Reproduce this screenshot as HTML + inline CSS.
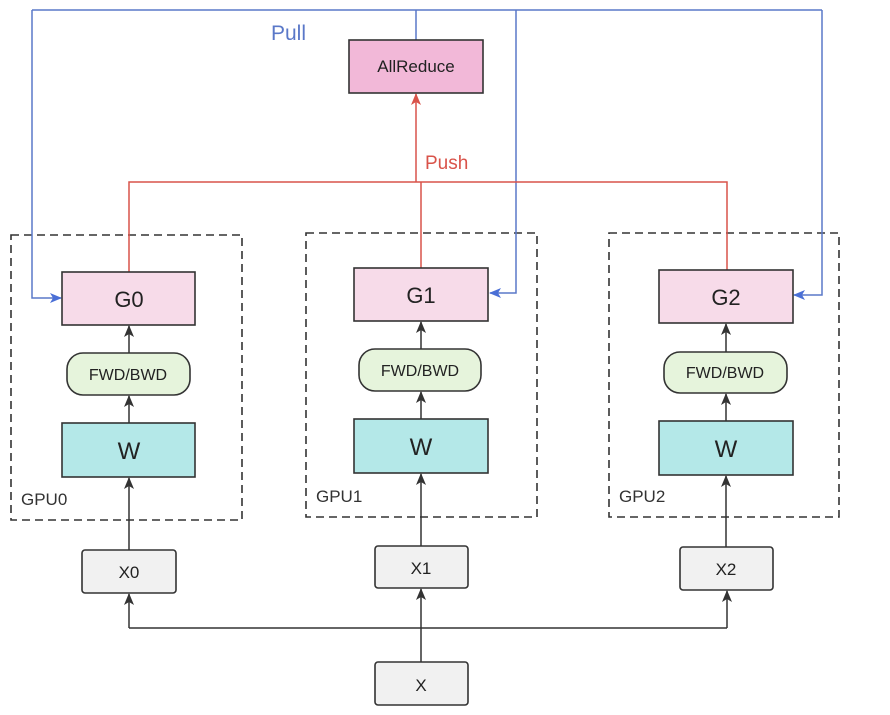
<!DOCTYPE html>
<html><head><meta charset="utf-8"><style>body{margin:0;background:#fff}svg{display:block}text{font-family:"Liberation Sans",sans-serif}</style></head><body>
<svg width="890" height="715" viewBox="0 0 890 715" xmlns="http://www.w3.org/2000/svg">
<defs>
<marker id="ab" markerWidth="12" markerHeight="10" refX="11" refY="5" orient="auto" markerUnits="userSpaceOnUse"><path d="M0,0 L12,5 L0,10 L3,5z" fill="#4a6fd6"/></marker>
<marker id="ar" markerWidth="12" markerHeight="10" refX="11" refY="5" orient="auto" markerUnits="userSpaceOnUse"><path d="M0,0 L12,5 L0,10 L3,5z" fill="#d9534a"/></marker>
<marker id="ak" markerWidth="12" markerHeight="10" refX="11" refY="5" orient="auto" markerUnits="userSpaceOnUse"><path d="M0,0 L12,5 L0,10 L3,5z" fill="#333"/></marker>
</defs>
<g fill="none" stroke="#333" stroke-width="1.6" stroke-dasharray="8,5">
<rect x="11" y="235" width="231" height="285"/>
<rect x="306" y="233" width="231" height="284"/>
<rect x="609" y="233" width="230" height="284"/>
</g>
<g fill="none" stroke="#5a78c8" stroke-width="1.5">
<path d="M416 40 V10 M32 10 H822"/>
<path d="M32 10 V298 H61" marker-end="url(#ab)"/>
<path d="M516 10 V293 H490" marker-end="url(#ab)"/>
<path d="M822 10 V295 H794" marker-end="url(#ab)"/>
</g>
<text x="271" y="40" font-size="21" fill="#5a78c8">Pull</text>
<g fill="none" stroke="#d9534a" stroke-width="1.5">
<path d="M416 182 V94" marker-end="url(#ar)"/>
<path d="M129 272 V182 H727 V270 M421 182 V268"/>
</g>
<text x="425" y="169" font-size="19" fill="#d9534a">Push</text>
<g fill="none" stroke="#333" stroke-width="1.5">
<path d="M129 353 V326" marker-end="url(#ak)"/><path d="M129 423 V396" marker-end="url(#ak)"/><path d="M129 550 V478" marker-end="url(#ak)"/>
<path d="M421 349 V322" marker-end="url(#ak)"/><path d="M421 419 V392" marker-end="url(#ak)"/><path d="M421 546 V474" marker-end="url(#ak)"/>
<path d="M726 352 V324" marker-end="url(#ak)"/><path d="M726 421 V394" marker-end="url(#ak)"/><path d="M726 547 V476" marker-end="url(#ak)"/>
<path d="M421 662 V589" marker-end="url(#ak)"/>
<path d="M129 628 H727"/>
<path d="M129 628 V594" marker-end="url(#ak)"/><path d="M727 628 V591" marker-end="url(#ak)"/>
</g>
<rect x="349" y="40" width="134" height="53" fill="#f2b8d8" stroke="#333" stroke-width="1.6"/>
<text x="416" y="72" font-size="17" text-anchor="middle" fill="#222">AllReduce</text>
<g stroke="#333" stroke-width="1.6">
<rect x="62" y="272" width="133" height="53" fill="#f7dbe9"/>
<rect x="354" y="268" width="134" height="53" fill="#f7dbe9"/>
<rect x="659" y="270" width="134" height="53" fill="#f7dbe9"/>
<rect x="67" y="353" width="123" height="42" rx="16" fill="#e6f4dc"/>
<rect x="359" y="349" width="122" height="42" rx="16" fill="#e6f4dc"/>
<rect x="664" y="352" width="123" height="41" rx="16" fill="#e6f4dc"/>
<rect x="62" y="423" width="133" height="54" fill="#b4e8e8"/>
<rect x="354" y="419" width="134" height="54" fill="#b4e8e8"/>
<rect x="659" y="421" width="134" height="54" fill="#b4e8e8"/>
<rect x="82" y="550" width="94" height="43" rx="3" fill="#f1f1f1"/>
<rect x="375" y="546" width="93" height="42" rx="3" fill="#f1f1f1"/>
<rect x="680" y="547" width="93" height="43" rx="3" fill="#f1f1f1"/>
<rect x="375" y="662" width="93" height="43" rx="3" fill="#f1f1f1"/>
</g>
<g fill="#222" text-anchor="middle">
<text x="129" y="307" font-size="22">G0</text>
<text x="421" y="303" font-size="22">G1</text>
<text x="726" y="305" font-size="22">G2</text>
<text x="128" y="380" font-size="16">FWD/BWD</text>
<text x="420" y="376" font-size="16">FWD/BWD</text>
<text x="725" y="378" font-size="16">FWD/BWD</text>
<text x="129" y="459" font-size="24">W</text>
<text x="421" y="455" font-size="24">W</text>
<text x="726" y="457" font-size="24">W</text>
<text x="129" y="578" font-size="17">X0</text>
<text x="421" y="574" font-size="17">X1</text>
<text x="726" y="575" font-size="17">X2</text>
<text x="421" y="691" font-size="17">X</text>
</g>
<g fill="#333" font-size="17">
<text x="21" y="505">GPU0</text>
<text x="316" y="502">GPU1</text>
<text x="619" y="502">GPU2</text>
</g>
</svg>
</body></html>
